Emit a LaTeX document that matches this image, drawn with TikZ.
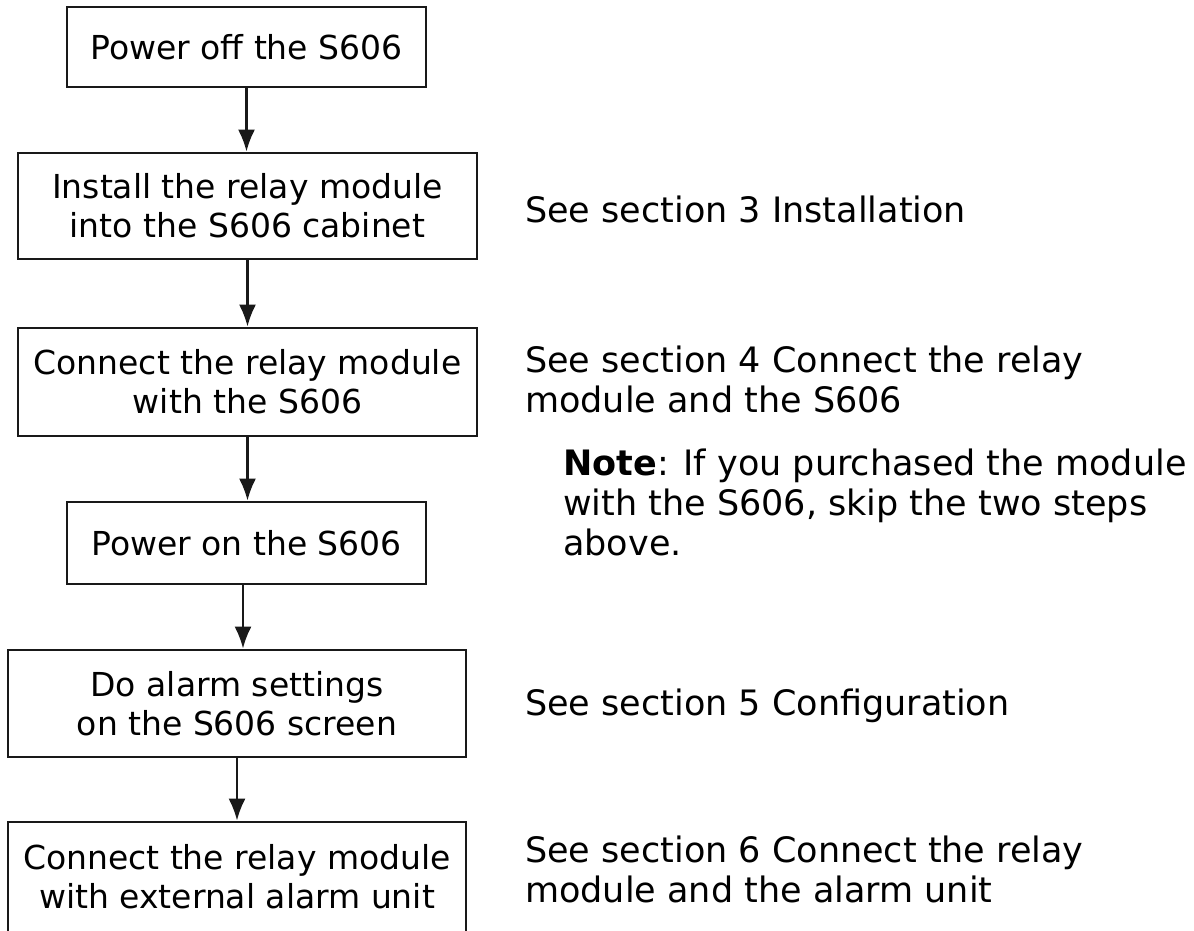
\documentclass[tikz,border=0pt]{standalone}
\usepackage{fontspec}
\setmainfont{DejaVu Sans}
\usetikzlibrary{arrows.meta}
\begin{document}
\begin{tikzpicture}[x=1pt,y=-1pt,
	stepbox/.style={draw=black!90,line width=2.8pt,align=center,inner sep=0pt,font=\fontsize{33}{39}\selectfont},
	seetext/.style={anchor=base west,align=left,inner sep=0pt,font=\fontsize{35}{40}\selectfont},
	flow/.style={draw=black!90,line width=2.4pt,-{Latex[length=22pt,width=17pt]}}]
		\clip (0,0) rectangle (1194,930);
		\fill[white] (0,0) rectangle (1194,930);
		\node[stepbox,minimum width=359pt,minimum height=80pt] (off) at (246.5,47) {Power off the S606};
		\node[stepbox,minimum width=459pt,minimum height=106pt] (install) at (247.5,206) {Install the relay module\\into the S606 cabinet};
		\node[stepbox,minimum width=459pt,minimum height=108pt] (connect) at (247.5,382) {Connect the relay module\\with the S606};
		\node[stepbox,minimum width=359pt,minimum height=82pt] (on) at (246.5,543) {Power on the S606};
		\node[stepbox,minimum width=458pt,minimum height=107pt] (settings) at (237,703.5) {Do alarm settings\\on the S606 screen};
		\node[stepbox,minimum width=458pt,minimum height=110pt] (alarm) at (237,877) {Connect the relay module\\with external alarm unit};
		\draw[flow] (off.south) -- (off.south |- install.north);
		\draw[flow] (install.south) -- (install.south |- connect.north);
		\draw[flow] (connect.south) -- (connect.south |- on.north);
		\draw[flow] ([xshift=-3.5pt]on.south) -- ([xshift=-3.5pt]on.south |- settings.north);
		\draw[flow] (settings.south) -- (settings.south |- alarm.north);
		\node[seetext] (sec3) at (525,222) {See section 3 Installation};
		\node[seetext] (sec4) at (525,412) {See section 4 Connect the relay\\module and the S606};
		\node[seetext] (note) at (563,555) {\textbf{Note}: If you purchased the module\\with the S606, skip the two steps\\above.};
		\node[seetext] (sec5) at (525,715) {See section 5 Configuration};
		\node[seetext] (sec6) at (525,902) {See section 6 Connect the relay\\module and the alarm unit};
\end{tikzpicture}
\end{document}
